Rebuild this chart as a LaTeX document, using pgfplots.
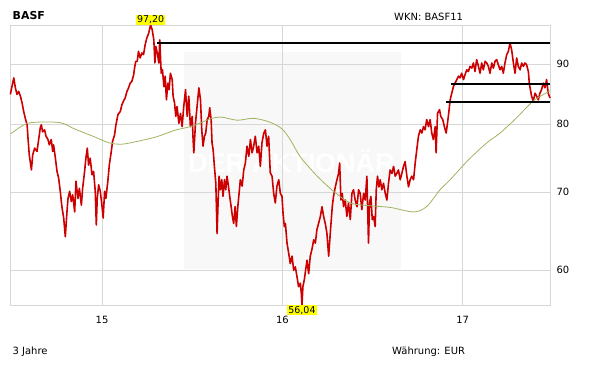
\documentclass[border=0pt]{standalone}
\usepackage{fontspec}
\setmainfont{DejaVu Sans}
\newfontfamily\wmfont{Liberation Sans}
\usepackage{pgfplots}
\pgfplotsset{compat=1.18}
\definecolor{pricered}{RGB}{204,0,0}
\definecolor{maolive}{RGB}{160,180,95}
\definecolor{gridgray}{RGB}{215,215,215}
\definecolor{wmgray}{RGB}{248,248,248}
\definecolor{labyellow}{RGB}{255,255,0}
\begin{document}
\begin{tikzpicture}[x=1bp,y=1bp]
\path (0,0) rectangle (611,364);
\node[anchor=west,inner sep=0pt,font=\fontsize{11}{12}\selectfont\bfseries] at (12.5,348) {BASF};
\node[anchor=west,inner sep=0pt,font=\fontsize{10}{12}\selectfont] at (394,347.5) {WKN: BASF11};
\node[anchor=west,inner sep=0pt,font=\fontsize{10}{12}\selectfont] at (12.5,12) {3 Jahre};
\node[anchor=west,inner sep=0pt,font=\fontsize{10}{12}\selectfont] at (392,12) {Währung: EUR};
\begin{axis}[
  set layers,
  at={(10.7bp,59bp)}, anchor=south west,
  scale only axis, width=539.3bp, height=280bp,
  xmin=14.493, xmax=17.485,
  ymode=log, ymin=56.04, ymax=97.2,
  xtick={15,16,17}, xticklabels={15,16,17},
  ytick={60,70,80,90}, yticklabels={60,70,80,90},
  yticklabel pos=right,
  major tick length=0pt,
  grid=major,
  major grid style={gridgray, line width=0.8bp},
  axis line style={gridgray, line width=0.8bp},
  tick label style={font=\fontsize{10}{12}\selectfont, /pgf/number format/assume math mode=true},
  yticklabel style={anchor=west, xshift=3bp},
  xticklabel style={anchor=north, yshift=-8bp},
  clip=false,
]
\begin{pgfonlayer}{axis background}
\fill[wmgray] (axis cs:15.453,60.1) rectangle (axis cs:16.658,92.1);
\node[text=white, font=\wmfont\fontsize{27}{30}\selectfont\bfseries] at (axis cs:16.05,74.3) {DER AKTIONÄR};
\end{pgfonlayer}
% price
\addplot[pricered, line width=1.6bp, line join=round] table {
14.491 84.8
14.504 86.7
14.510 87.6
14.519 85.9
14.528 84.8
14.537 85.3
14.547 84.5
14.556 83.4
14.565 82.0
14.574 80.9
14.584 79.9
14.589 77.8
14.596 75.3
14.604 73.8
14.608 73.1
14.615 75.3
14.626 76.3
14.639 75.8
14.648 77.6
14.657 79.4
14.663 79.9
14.670 78.8
14.681 79.1
14.689 78.1
14.700 77.6
14.707 76.8
14.718 77.6
14.726 75.8
14.731 76.8
14.741 74.8
14.750 72.9
14.759 71.9
14.768 70.1
14.777 68.0
14.787 66.5
14.796 64.1
14.805 67.3
14.811 69.1
14.820 70.1
14.829 68.7
14.837 69.6
14.848 67.3
14.855 71.5
14.866 69.1
14.874 70.5
14.885 68.2
14.892 70.5
14.903 72.9
14.910 74.8
14.918 76.3
14.925 73.8
14.934 74.8
14.944 72.4
14.953 72.9
14.962 70.1
14.968 65.6
14.973 69.1
14.981 71.0
14.990 70.1
14.999 68.2
15.006 66.5
15.014 70.1
15.021 69.1
15.032 71.5
15.040 73.8
15.051 75.8
15.058 77.3
15.069 78.3
15.077 79.9
15.088 81.5
15.101 82.0
15.110 83.1
15.119 83.7
15.128 84.2
15.138 85.3
15.147 85.9
15.156 86.7
15.165 87.0
15.175 88.1
15.180 89.3
15.187 90.5
15.195 90.5
15.202 92.3
15.211 91.1
15.221 92.0
15.230 91.7
15.239 93.5
15.248 94.7
15.259 95.7
15.269 97.2
15.278 96.3
15.287 94.4
15.293 90.2
15.298 93.2
15.306 92.0
15.315 90.2
15.320 94.4
15.328 88.4
15.335 89.0
15.343 86.1
15.350 87.9
15.357 83.9
15.365 86.7
15.372 85.6
15.379 88.4
15.389 87.3
15.394 84.5
15.402 83.4
15.409 81.2
15.416 82.8
15.426 80.1
15.435 81.7
15.444 79.6
15.453 82.8
15.463 85.6
15.472 81.2
15.481 84.5
15.490 79.6
15.500 81.2
15.505 77.6
15.509 75.6
15.518 80.1
15.527 82.8
15.537 85.9
15.546 83.9
15.553 79.1
15.560 76.6
15.568 78.1
15.575 78.6
15.583 80.7
15.592 81.2
15.597 82.6
15.605 80.7
15.610 77.1
15.616 76.1
15.623 73.6
15.631 71.2
15.638 64.5
15.644 68.9
15.649 72.2
15.656 70.3
15.664 71.7
15.671 69.4
15.679 71.7
15.686 70.3
15.693 72.2
15.701 70.8
15.708 69.4
15.716 68.0
15.723 66.7
15.730 65.8
15.738 68.0
15.745 65.4
15.753 68.0
15.760 69.8
15.767 71.7
15.777 70.8
15.786 73.1
15.795 74.1
15.804 76.6
15.814 75.1
15.823 77.6
15.832 75.6
15.841 76.6
15.850 78.1
15.860 75.6
15.869 76.6
15.878 73.6
15.887 77.1
15.897 78.6
15.906 79.1
15.915 76.6
15.924 78.1
15.933 72.7
15.943 72.2
15.952 69.8
15.961 68.5
15.970 70.8
15.980 71.7
15.989 69.8
15.998 69.4
16.004 67.1
16.011 65.4
16.017 65.8
16.026 63.3
16.035 62.1
16.044 60.8
16.054 61.7
16.063 60.0
16.072 60.4
16.081 59.3
16.090 58.1
16.100 58.5
16.105 57.4
16.109 56.04
16.114 58.1
16.122 58.9
16.129 60.0
16.137 61.2
16.146 59.6
16.155 61.7
16.164 62.5
16.174 63.7
16.183 63.3
16.192 65.0
16.201 65.8
16.211 66.7
16.220 68.0
16.229 66.7
16.238 65.8
16.247 64.6
16.257 61.7
16.262 63.3
16.270 65.8
16.277 68.0
16.284 69.4
16.294 70.7
16.303 71.7
16.312 72.6
16.318 74.1
16.325 68.9
16.332 69.8
16.340 68.0
16.349 68.9
16.358 66.7
16.367 68.5
16.377 66.3
16.386 69.8
16.395 70.3
16.404 68.9
16.414 68.0
16.423 70.3
16.432 69.8
16.441 67.6
16.451 69.8
16.460 68.9
16.469 72.2
16.478 63.3
16.484 68.5
16.491 69.4
16.499 66.3
16.506 66.7
16.515 65.4
16.521 70.3
16.528 72.2
16.536 70.7
16.543 71.7
16.552 70.3
16.561 71.2
16.571 69.8
16.580 68.9
16.589 71.2
16.598 73.1
16.608 72.6
16.617 73.6
16.626 72.2
16.635 72.6
16.644 73.1
16.654 71.7
16.663 72.6
16.672 73.6
16.681 74.3
16.691 72.2
16.700 70.7
16.709 71.7
16.718 72.2
16.728 71.7
16.737 74.1
16.746 76.1
16.755 78.1
16.765 79.1
16.774 78.6
16.783 79.6
16.792 79.1
16.801 80.7
16.811 79.6
16.820 80.7
16.829 78.6
16.838 77.6
16.848 79.6
16.853 75.6
16.861 81.7
16.872 82.3
16.879 81.2
16.890 80.7
16.899 79.6
16.909 78.6
16.916 80.1
16.923 81.7
16.931 83.9
16.940 85.0
16.949 86.1
16.958 86.7
16.968 87.3
16.977 87.9
16.986 87.6
16.995 88.4
17.005 87.3
17.014 88.2
17.023 89.0
17.032 88.7
17.041 89.6
17.051 89.3
17.060 90.2
17.069 88.7
17.078 90.8
17.088 89.6
17.097 88.4
17.106 90.2
17.115 89.0
17.125 90.5
17.134 90.2
17.143 89.6
17.152 88.4
17.162 90.2
17.171 89.3
17.180 90.5
17.189 90.8
17.198 89.9
17.208 89.0
17.217 89.6
17.226 88.4
17.235 90.2
17.245 91.7
17.254 92.3
17.263 93.8
17.272 92.6
17.282 90.2
17.291 88.4
17.300 91.1
17.309 89.6
17.319 89.0
17.328 90.2
17.337 89.6
17.346 90.2
17.355 89.9
17.365 88.7
17.370 86.7
17.378 85.3
17.383 84.5
17.392 83.7
17.402 85.0
17.411 84.5
17.420 83.9
17.429 85.0
17.438 85.6
17.448 86.7
17.457 85.9
17.466 87.3
17.475 85.0
17.485 84.2
};
% moving average
\addplot[maolive, line width=0.8bp, smooth] table {
14.493 78.5
14.576 80.0
14.650 80.3
14.770 80.2
14.850 79.2
14.950 78.1
15.040 77.1
15.110 76.9
15.190 77.3
15.300 78.0
15.400 79.0
15.500 79.7
15.600 80.8
15.660 81.1
15.750 80.6
15.840 80.9
15.930 80.3
16.000 79.2
16.050 77.3
16.100 75.0
16.190 72.3
16.284 70.1
16.377 68.5
16.500 68.1
16.600 67.9
16.728 67.3
16.800 68.0
16.875 70.3
16.931 71.7
17.030 74.5
17.134 77.1
17.208 78.6
17.300 81.0
17.392 83.7
17.485 85.4
};
% resistance / support lines
\addplot[black, line width=1.8bp] coordinates {(15.307,93.8) (17.485,93.8)};
\addplot[black, line width=1.8bp] coordinates {(16.935,86.6) (17.485,86.6)};
\addplot[black, line width=1.8bp] coordinates {(16.907,83.6) (17.485,83.6)};
% high / low labels
\node[fill=labyellow, inner sep=1bp, anchor=south, font=\fontsize{9.5}{10}\selectfont] at (axis cs:15.269,97.2) {97,20};
\node[fill=labyellow, inner sep=1bp, anchor=north, font=\fontsize{9.5}{10}\selectfont] at (axis cs:16.109,56.04) {56,04};
\end{axis}
\end{tikzpicture}
\end{document}
